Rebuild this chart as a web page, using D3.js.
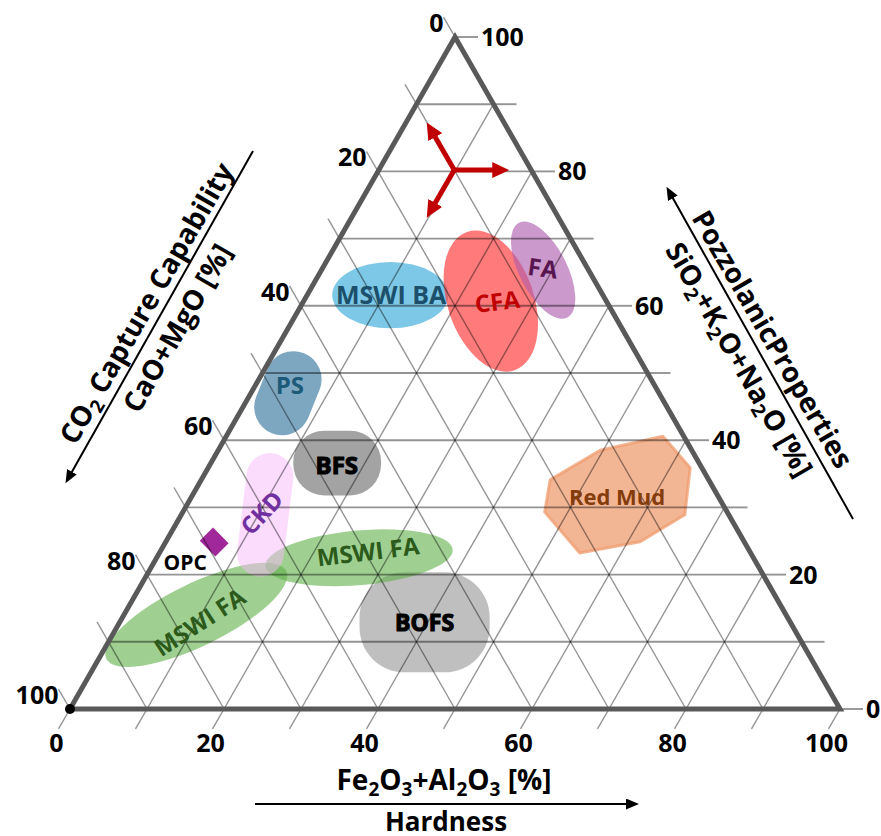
<!DOCTYPE html>
<html>
<head>
<meta charset="utf-8">
<script src="https://cdn.jsdelivr.net/npm/d3@7"></script>
<style>
  body { margin: 0; background: #fff; }
  svg { display: block; font-family: "Open Sans", "Noto Sans", sans-serif; }
</style>
</head>
<body>
<svg id="chart" width="881" height="836"></svg>
<script>
// ---- data -------------------------------------------------------------
// grid steps and labelled ticks (percent)
const gridSteps = d3.range(0, 101, 10);
const tickLabels = [0, 20, 40, 60, 80, 100];

// material fields: centre composition (Fe2O3+Al2O3, SiO2+K2O+Na2O; CaO+MgO is the rest)
const regionNames = ["BOFS", "Red Mud", "MSWI BA", "CFA", "FA", "PS", "BFS", "MSWI FA", "MSWI FA", "CKD"];
const regionFe    = [39.6, 55.3, 10.8, 24.3, 28.8, 4.8, 16.4, 26.3, 9.4, 10.9];
const regionSi    = [12.9, 31.5, 61.6, 60.7, 65.3, 47.0, 36.6, 22.5, 14.0, 28.9];
// extent of each field, in percent of the triangle side
const regionSpanA = [16.9, 0, 15.1, 11.2, 6.2, 7.3, 11.4, 24.4, 26.0, 6.1];
const regionSpanB = [13.0, 0, 8.6, 19.0, 13.8, 11.2, 8.4, 7.1, 8.1, 16.1];
const regionTilt  = [0, 0, 0, -19, -27, 22, 0, -5, -26, 7];
// label position of each field (composition)
const labelFe = [39.6, 55.3, 10.9, 25.2, 28.6, 4.5, 16.5, 27.0, 10.4, 10.3];
const labelSi = [12.9, 31.5, 61.6, 60.6, 65.6, 48.1, 36.3, 23.4, 12.9, 29.2];
const labelTilt = [0, 0, 0, -7, 8, 0, 0, -7, -33, -47];

// Red Mud outline (Fe2O3+Al2O3, SiO2+K2O+Na2O)
const redMudFe = [45.3, 49.6, 56.7, 62.6, 65.4, 61.6, 54.6, 47.0];
const redMudSi = [34.1, 38.5, 40.6, 35.9, 28.9, 24.9, 23.2, 29.3];

// Portland cement reference point
const opcFe = 6.3, opcSi = 24.85;

// direction triad position
const triadFe = 9.8, triadSi = 80.2;

// ---- styles -----------------------------------------------------------
const regionStyle = {
  "BOFS":    { shape: "round",   fill: "#b4b4b4", op: 0.85, text: "#000",    size: 23, heavy: true, corner: 0.45 },
  "Red Mud": { shape: "poly",    fill: "#ef9a6c", op: 0.72, text: "#843c0c", size: 22 },
  "MSWI BA": { shape: "ellipse", fill: "#37abd9", op: 0.65, text: "#1b4f6b", size: 25 },
  "CFA":     { shape: "ellipse", fill: "#ff3c3c", op: 0.68, text: "#c00000", size: 24 },
  "FA":      { shape: "ellipse", fill: "#ad5aad", op: 0.62, text: "#581650", size: 24 },
  "PS":      { shape: "capsule", fill: "#3f7ea3", op: 0.68, text: "#1d5a78", size: 24 },
  "BFS":     { shape: "round",   fill: "#7f7f7f", op: 0.72, text: "#000",    size: 24, heavy: true, corner: 0.48 },
  "MSWI FA": { shape: "ellipse", fill: "#5fb048", op: 0.6,  text: "#2b5a1b", size: 24 },
  "CKD":     { shape: "capsule", fill: "#f7b9fb", op: 0.5,  text: "#7030a0", size: 24 }
};

// ---- scales ------------------------------------------------------------
const svg = d3.select("#chart");
const base = d3.scaleLinear().domain([0, 100]).range([70, 840]);  // along the bottom edge
const rise = d3.scaleLinear().domain([0, 100]).range([709, 37]);  // height of SiO2 lines
const unit = base(1) - base(0);
const P = (fe, si) => [base(fe) + (base(si) - base(0)) / 2, rise(si)];

const TICK = 23;
const defs = svg.append("defs");
const gShapes = svg.append("g");
const gGrid = svg.append("g");
const gFrame = svg.append("g");
const gText = svg.append("g");

// ---- material fields ------------------------------------------------------
regionNames.forEach((name, i) => {
  const st = regionStyle[name];
  if (st.shape === "poly") {
    const pts = redMudFe.map((f, j) => P(f, redMudSi[j]));
    gShapes.append("path")
      .attr("d", d3.line().curve(d3.curveLinearClosed)(pts))
      .attr("fill", st.fill).attr("fill-opacity", st.op)
      .attr("stroke", st.fill).attr("stroke-opacity", st.op)
      .attr("stroke-width", 3).attr("stroke-linejoin", "round");
    return;
  }
  const [cx, cy] = P(regionFe[i], regionSi[i]);
  const w = regionSpanA[i] * unit, h = regionSpanB[i] * unit;
  const g = gShapes.append("g").attr("transform", `translate(${cx},${cy}) rotate(${regionTilt[i]})`);
  if (st.shape === "ellipse") {
    g.append("ellipse").attr("rx", w / 2).attr("ry", h / 2);
  } else {
    const r = st.shape === "capsule" ? Math.min(w, h) / 2 : Math.min(w, h) * st.corner;
    g.append("rect").attr("x", -w / 2).attr("y", -h / 2).attr("width", w).attr("height", h)
      .attr("rx", r).attr("ry", r);
  }
  g.selectAll("*").attr("fill", st.fill).attr("fill-opacity", st.op);
});

// ---- grid ----------------------------------------------------------------
const seg = (a, b, w) => gGrid.append("line")
  .attr("x1", a[0]).attr("y1", a[1]).attr("x2", b[0]).attr("y2", b[1])
  .attr("stroke", "#000").attr("stroke-opacity", 0.42).attr("stroke-width", w);

const c60 = Math.cos(Math.PI / 3), s60 = Math.sin(Math.PI / 3);
gridSteps.forEach(v => {
  if (v > 0 && v < 100) {
    seg(P(0, v), P(100 - v, v), 1.9);          // constant SiO2
    seg(P(v, 0), P(v, 100 - v), 1.4);          // constant Fe2O3
    seg(P(0, 100 - v), P(100 - v, 0), 1.4);    // constant CaO
  }
  // outer tick extensions
  const r = P(100 - v, v);
  seg(r, [r[0] + TICK, r[1]], 1.9);
  const b = P(v, 0);
  seg(b, [b[0] - c60 * TICK, b[1] + s60 * TICK], 1.4);
  const l = P(0, 100 - v);
  seg(l, [l[0] - c60 * TICK, l[1] - s60 * TICK], 1.4);
});

// ---- frame ---------------------------------------------------------------
gFrame.append("path")
  .attr("d", d3.line()([P(0, 0), P(100, 0), P(0, 100)]) + "Z")
  .attr("fill", "none").attr("stroke", "#595959").attr("stroke-width", 5);
gFrame.append("circle").attr("cx", P(0, 0)[0]).attr("cy", P(0, 0)[1]).attr("r", 5).attr("fill", "#000");

// ---- tick labels ------------------------------------------------------------
const tickFont = 25;
tickLabels.forEach(v => {
  const r = P(100 - v, v);
  gText.append("text").attr("x", r[0] + TICK + 3).attr("y", r[1]).attr("dy", "0.36em")
    .attr("font-size", tickFont).attr("font-weight", 700).text(v);
  const b = P(v, 0);
  gText.append("text").attr("x", b[0] - c60 * TICK - 2).attr("y", b[1] + s60 * TICK + 14).attr("dy", "0.36em")
    .attr("text-anchor", "middle").attr("font-size", tickFont).attr("font-weight", 700).text(v);
  const l = P(0, 100 - v);
  gText.append("text").attr("x", l[0] - c60 * TICK).attr("y", l[1] - s60 * TICK + 6).attr("dy", "0.36em")
    .attr("text-anchor", "end").attr("font-size", tickFont).attr("font-weight", 700).text(v);
});

// ---- field labels ------------------------------------------------------------
regionNames.forEach((name, i) => {
  const st = regionStyle[name];
  const [x, y] = P(labelFe[i], labelSi[i]);
  const t = gText.append("text")
    .attr("transform", `translate(${x},${y}) rotate(${labelTilt[i]})`)
    .attr("text-anchor", "middle").attr("dy", "0.36em")
    .attr("font-size", st.size).attr("font-weight", 700)
    .attr("fill", st.text).text(name);
  if (st.heavy) t.attr("stroke", st.text).attr("stroke-width", 1.1);
});

// OPC marker
const [ox, oy] = P(opcFe, opcSi);
gShapes.append("rect").attr("x", -11).attr("y", -11).attr("width", 22).attr("height", 22)
  .attr("transform", `translate(${ox},${oy}) rotate(45) scale(1,0.85)`)
  .attr("fill", "#a0289a");
gText.append("text").attr("x", ox - 29).attr("y", oy + 20).attr("dy", "0.36em")
  .attr("text-anchor", "middle").attr("font-size", 21).attr("font-weight", 700).text("OPC");

// ---- direction triad ------------------------------------------------------------
function marker(id, color, w, h) {
  defs.append("marker").attr("id", id).attr("viewBox", `0 0 ${w} ${h}`)
    .attr("refX", 1).attr("refY", h / 2).attr("markerWidth", w).attr("markerHeight", h)
    .attr("markerUnits", "userSpaceOnUse").attr("orient", "auto")
    .append("path").attr("d", `M0,0L${w},${h / 2}L0,${h}Z`).attr("fill", color);
}
marker("redHead", "#c00000", 17, 16);
marker("blackHead", "#000", 13, 11);

const [tx, ty] = P(triadFe, triadSi);
[0, -120, 120].forEach(a => {
  const rad = a * Math.PI / 180, len = 56 - 17;
  gText.append("line").attr("x1", tx).attr("y1", ty)
    .attr("x2", tx + Math.cos(rad) * len).attr("y2", ty + Math.sin(rad) * len)
    .attr("stroke", "#c00000").attr("stroke-width", 5).attr("marker-end", "url(#redHead)");
});

// ---- axis titles -----------------------------------------------------------------
// text with subscripts: each part is [string, isSubscript]
function rich(sel, parts, size) {
  const shift = size * 0.2;
  let prevSub = false;
  parts.forEach(([s, sub]) => {
    let dy = 0;
    if (sub && !prevSub) dy = shift;
    if (!sub && prevSub) dy = -shift;
    sel.append("tspan").attr("font-size", sub ? size * 0.68 : size).attr("dy", dy).text(s);
    prevSub = !!sub;
  });
}
const TF = 28;

// bottom
const bt = gText.append("text").attr("x", 444).attr("y", 790).attr("text-anchor", "middle")
  .attr("font-size", TF).attr("font-weight", 700);
rich(bt, [["Fe"], ["2", 1], ["O"], ["3", 1], ["+Al"], ["2", 1], ["O"], ["3", 1], [" [%]"]], TF);
gText.append("line").attr("x1", 255).attr("y1", 804).attr("x2", 640 - 13).attr("y2", 804)
  .attr("stroke", "#000").attr("stroke-width", 2).attr("marker-end", "url(#blackHead)");
gText.append("text").attr("x", 446).attr("y", 831).attr("text-anchor", "middle")
  .attr("font-size", 26).attr("font-weight", 700).text("Hardness");

// left (CaO+MgO)
{
  const a = [253, 151], b = [65, 484];
  const len = Math.hypot(b[0] - a[0], b[1] - a[1]);
  const ux = (b[0] - a[0]) / len, uy = (b[1] - a[1]) / len;
  gText.append("line").attr("x1", a[0]).attr("y1", a[1])
    .attr("x2", b[0] - ux * 13).attr("y2", b[1] - uy * 13)
    .attr("stroke", "#000").attr("stroke-width", 2).attr("marker-end", "url(#blackHead)");
  const mx = (a[0] + b[0]) / 2, my = (a[1] + b[1]) / 2;
  const g = gText.append("g").attr("transform", `translate(${mx},${my}) rotate(-60)`);
  const t1 = g.append("text").attr("x", 6).attr("y", -8).attr("text-anchor", "middle")
    .attr("font-size", TF).attr("font-weight", 700);
  rich(t1, [["CO"], ["2", 1], [" Capture Capability"]], TF);
  g.append("text").attr("x", 0).attr("y", 31).attr("text-anchor", "middle")
    .attr("font-size", TF).attr("font-weight", 700).text("CaO+MgO [%]");
}

// right (SiO2+K2O+Na2O)
{
  const a = [853, 519], b = [666, 186];
  const len = Math.hypot(b[0] - a[0], b[1] - a[1]);
  const ux = (b[0] - a[0]) / len, uy = (b[1] - a[1]) / len;
  gText.append("line").attr("x1", a[0]).attr("y1", a[1])
    .attr("x2", b[0] - ux * 13).attr("y2", b[1] - uy * 13)
    .attr("stroke", "#000").attr("stroke-width", 2).attr("marker-end", "url(#blackHead)");
  const mx = (a[0] + b[0]) / 2, my = (a[1] + b[1]) / 2;
  const g = gText.append("g").attr("transform", `translate(${mx},${my}) rotate(60)`);
  g.append("text").attr("x", -5).attr("y", -8).attr("text-anchor", "middle")
    .attr("font-size", TF).attr("font-weight", 700).text("PozzolanicProperties");
  const t2 = g.append("text").attr("x", -4).attr("y", 31).attr("text-anchor", "middle")
    .attr("font-size", TF).attr("font-weight", 700);
  rich(t2, [["SiO"], ["2", 1], ["+K"], ["2", 1], ["O+Na"], ["2", 1], ["O [%]"]], TF);
}
</script>
</body>
</html>
